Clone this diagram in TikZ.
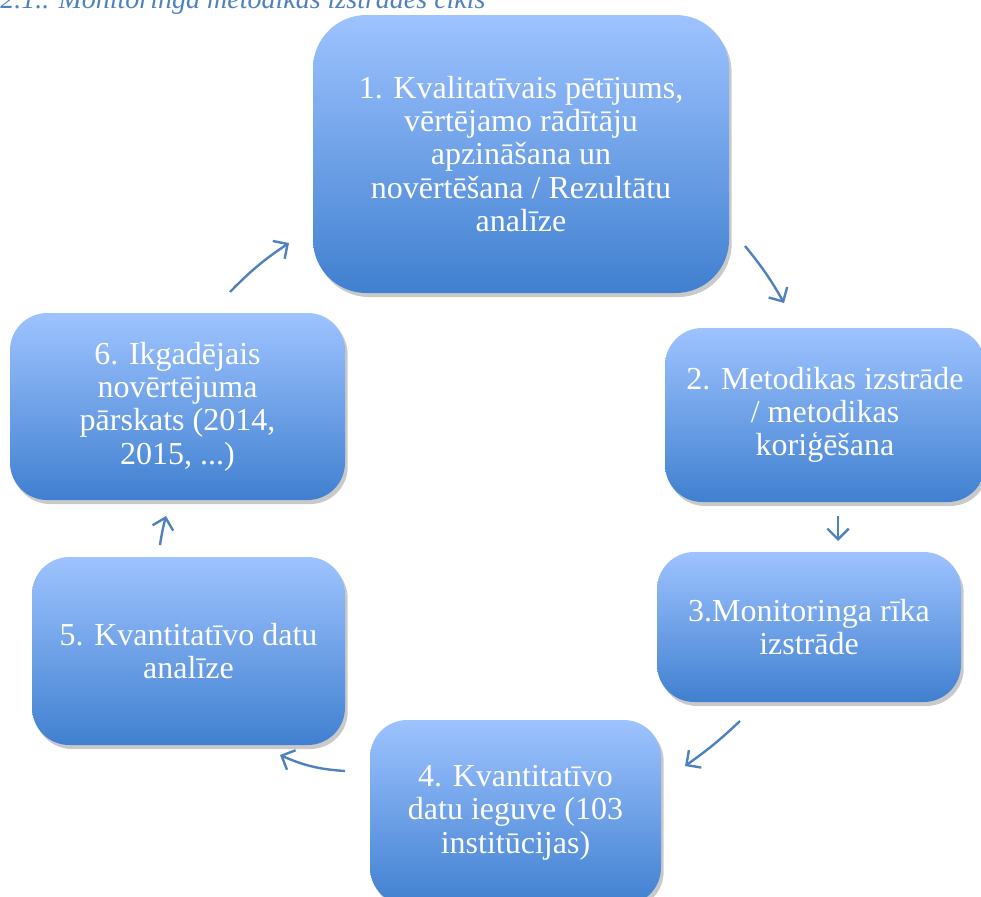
\documentclass[tikz,border=0pt]{standalone}
\usepackage{fontspec}
\setmainfont{Liberation Serif}
\usetikzlibrary{arrows.meta,shadows}
\definecolor{boxtop}{RGB}{158,195,255}
\definecolor{boxbot}{RGB}{64,128,208}
\definecolor{cycleblue}{RGB}{79,129,189}

\begin{document}
\begin{tikzpicture}[x=0.75pt,y=-0.75pt,
		stepbox/.style={rounded corners=28pt, top color=boxtop, bottom color=boxbot,
			draw=none, text=white, align=center, inner sep=0pt,
			font=\fontsize{24}{25}\selectfont,
			drop shadow={shadow xshift=2pt, shadow yshift=-3pt, opacity=0.3, fill=black!70}},
		flow/.style={draw=cycleblue, line width=1.8pt, -{Straight Barb[length=8pt,width=16pt]}}]
		\useasboundingbox (0,0) rectangle (981,896);
		\clip (0,0) rectangle (981,896);
		%title
		\node[anchor=base west, inner sep=0pt, text=cycleblue, font=\fontsize{21}{24}\selectfont\itshape] (title) at (0,8) {2.1.. Monitoringa metodikas izstrādes cikls};
		%steps
		\node[stepbox, rounded corners=40pt, minimum width=312pt, minimum height=208.5pt] (s1) at (521,154) {1. Kvalitatīvais pētījums,\\vērtējamo rādītāju\\apzināšana un\\novērtēšana / Rezultātu\\analīze};
		\node[stepbox, minimum width=240pt, minimum height=130.5pt] (s2) at (825,415) {2. Metodikas izstrāde\\/ metodikas\\koriģēšana};
		\node[stepbox, minimum width=228pt, minimum height=112.5pt] (s3) at (809,627) {3.Monitoringa rīka\\izstrāde};
		\node[stepbox, minimum width=218.25pt, minimum height=138.75pt] (s4) at (515.5,812.5) {4. Kvantitatīvo\\datu ieguve (103\\institūcijas)};
		\node[stepbox, minimum width=234.75pt, minimum height=141pt] (s5) at (188.5,651) {5. Kvantitatīvo datu\\analīze};
		\node[stepbox, minimum width=251.25pt, minimum height=140.25pt] (s6) at (177.5,406.5) {6. Ikgadējais\\novērtējuma\\pārskats (2014,\\2015, ...)};
		%arrow ends
		\coordinate (a1) at (745,246); \coordinate (b1) at (784,303);
		\coordinate (a2) at (838,516); \coordinate (b2) at (838,541);
		\coordinate (a3) at (740,721); \coordinate (b3) at (685,766);
		\coordinate (a4) at (345,771); \coordinate (b4) at (280,755);
		\coordinate (a5) at (160,545); \coordinate (b5) at (166,516);
		\coordinate (a6) at (230,292); \coordinate (b6) at (289,243);
		%cycle arrows
		\draw[flow] (a1) to[bend left=5] (b1);
		\draw[flow] (a2) -- (b2);
		\draw[flow] (a3) to[bend left=4] (b3);
		\draw[flow] (a4) to[bend left=10] (b4);
		\draw[flow] (a5) to[bend left=3] (b5);
		\draw[flow] (a6) to[bend left=6] (b6);
	\end{tikzpicture}
\end{document}
